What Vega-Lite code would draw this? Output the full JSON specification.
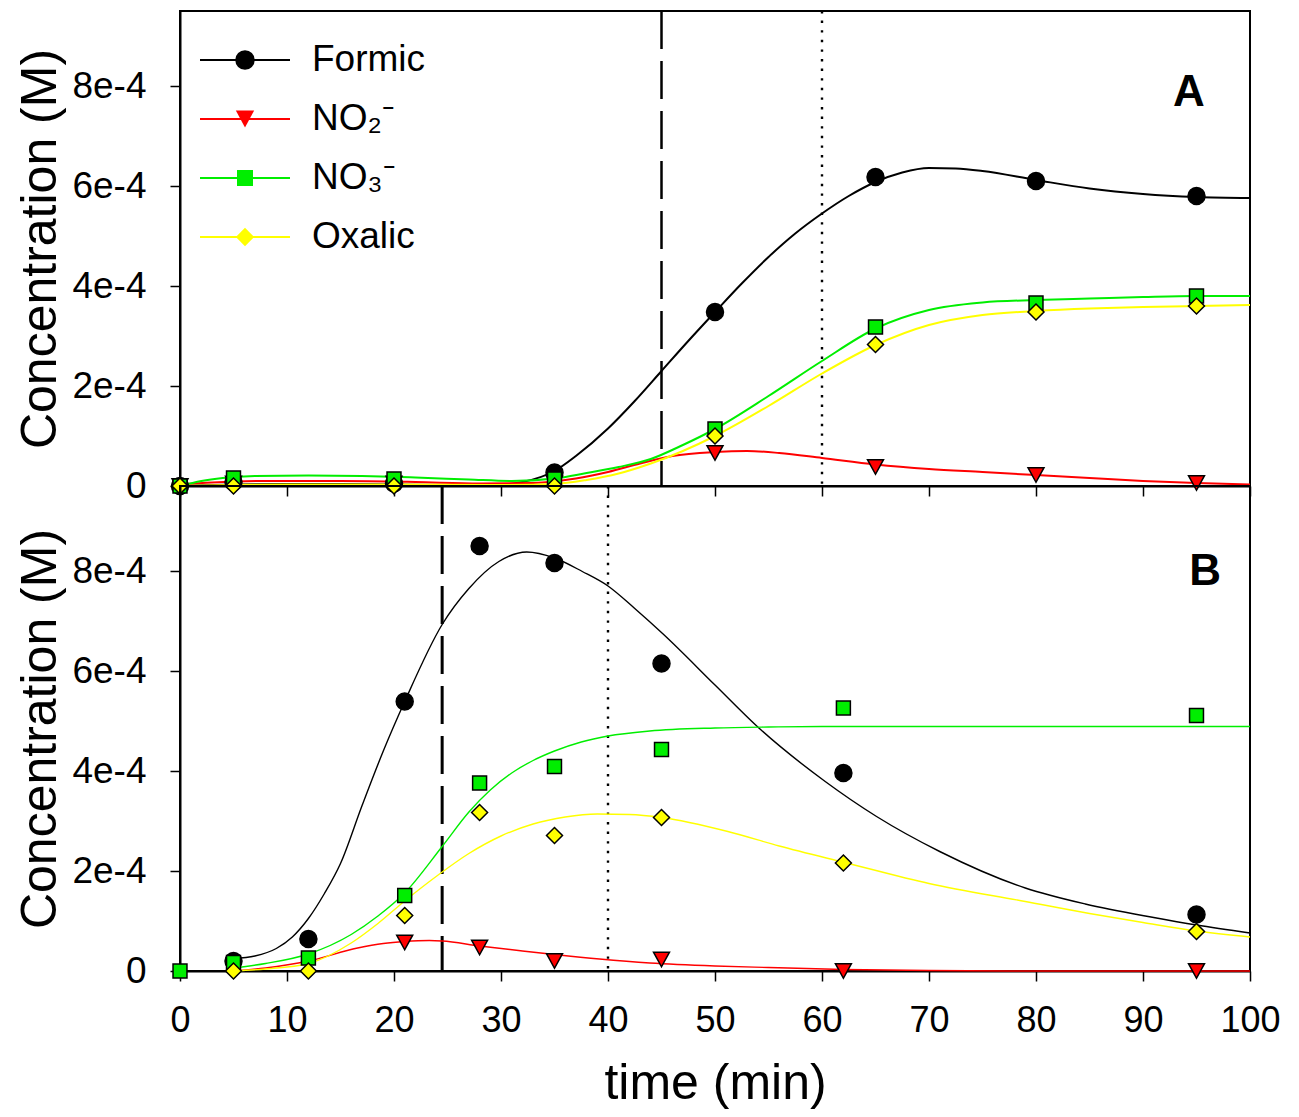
{
  "$schema": "https://vega.github.io/schema/vega-lite/v6.json",
  "padding": {"left": 14, "top": 8, "right": 5, "bottom": 5},
  "autosize": {"type": "pad"},
  "background": "white",
  "config": {
    "font": "Liberation Sans",
    "view": {"stroke": "black", "strokeWidth": 2},
    "axis": {
      "domainColor": "black", "domainWidth": 2, "tickColor": "black", "tickWidth": 1.5, "tickSize": 10,
      "labelColor": "black", "titleColor": "black", "labelFont": "Liberation Sans", "titleFont": "Liberation Sans",
      "titleFontWeight": "normal", "grid": false, "labelFlush": false, "labelOverlap": false
    }
  },
  "datasets": {
    "ptsA": [
      {"t": 0, "c": 0, "s": "Formic"}, {"t": 5, "c": 0.000008, "s": "Formic"}, {"t": 20, "c": 0.000005, "s": "Formic"}, {"t": 35, "c": 0.000027, "s": "Formic"}, {"t": 50, "c": 0.000348, "s": "Formic"}, {"t": 65, "c": 0.000618, "s": "Formic"}, {"t": 80, "c": 0.00061, "s": "Formic"}, {"t": 95, "c": 0.00058, "s": "Formic"},
      {"t": 0, "c": 0, "s": "NO₂⁻"}, {"t": 5, "c": 0.000005, "s": "NO₂⁻"}, {"t": 20, "c": 0.000005, "s": "NO₂⁻"}, {"t": 35, "c": 0.000005, "s": "NO₂⁻"}, {"t": 50, "c": 0.000066, "s": "NO₂⁻"}, {"t": 65, "c": 0.000038, "s": "NO₂⁻"}, {"t": 80, "c": 0.000022, "s": "NO₂⁻"}, {"t": 95, "c": 0.000006, "s": "NO₂⁻"},
      {"t": 0, "c": 0, "s": "NO₃⁻"}, {"t": 5, "c": 0.000016, "s": "NO₃⁻"}, {"t": 20, "c": 0.000014, "s": "NO₃⁻"}, {"t": 35, "c": 0.000014, "s": "NO₃⁻"}, {"t": 50, "c": 0.000114, "s": "NO₃⁻"}, {"t": 65, "c": 0.000318, "s": "NO₃⁻"}, {"t": 80, "c": 0.000366, "s": "NO₃⁻"}, {"t": 95, "c": 0.00038, "s": "NO₃⁻"},
      {"t": 0, "c": 0, "s": "Oxalic"}, {"t": 5, "c": 0, "s": "Oxalic"}, {"t": 20, "c": 0, "s": "Oxalic"}, {"t": 35, "c": 0, "s": "Oxalic"}, {"t": 50, "c": 0.0001, "s": "Oxalic"}, {"t": 65, "c": 0.000283, "s": "Oxalic"}, {"t": 80, "c": 0.000348, "s": "Oxalic"}, {"t": 95, "c": 0.00036, "s": "Oxalic"}
    ],
    "fitA": [
      {"t": 0, "c": 0, "s": "Formic"}, {"t": 5, "c": 0.000003, "s": "Formic"}, {"t": 10, "c": 0.000004, "s": "Formic"}, {"t": 15, "c": 0.000004, "s": "Formic"}, {"t": 20, "c": 0.000003, "s": "Formic"}, {"t": 25, "c": 0.000002, "s": "Formic"}, {"t": 30, "c": 0.000003, "s": "Formic"}, {"t": 32, "c": 0.000008, "s": "Formic"}, {"t": 35, "c": 0.00003, "s": "Formic"}, {"t": 37, "c": 0.00006, "s": "Formic"}, {"t": 40, "c": 0.000115, "s": "Formic"}, {"t": 42.5, "c": 0.00017, "s": "Formic"}, {"t": 45, "c": 0.00023, "s": "Formic"}, {"t": 47.5, "c": 0.00029, "s": "Formic"}, {"t": 50, "c": 0.000348, "s": "Formic"}, {"t": 52.5, "c": 0.000405, "s": "Formic"}, {"t": 55, "c": 0.000458, "s": "Formic"}, {"t": 57.5, "c": 0.000505, "s": "Formic"}, {"t": 60, "c": 0.000545, "s": "Formic"}, {"t": 62.5, "c": 0.00058, "s": "Formic"}, {"t": 65, "c": 0.000608, "s": "Formic"}, {"t": 67.5, "c": 0.000627, "s": "Formic"}, {"t": 70, "c": 0.000636, "s": "Formic"}, {"t": 72.5, "c": 0.000635, "s": "Formic"}, {"t": 75, "c": 0.00063, "s": "Formic"}, {"t": 80, "c": 0.000612, "s": "Formic"}, {"t": 85, "c": 0.000595, "s": "Formic"}, {"t": 90, "c": 0.000584, "s": "Formic"}, {"t": 95, "c": 0.000578, "s": "Formic"}, {"t": 100, "c": 0.000576, "s": "Formic"},
      {"t": 0, "c": 0.000003, "s": "NO₂⁻"}, {"t": 3, "c": 0.000007, "s": "NO₂⁻"}, {"t": 8, "c": 0.00001, "s": "NO₂⁻"}, {"t": 15, "c": 0.00001, "s": "NO₂⁻"}, {"t": 22, "c": 0.000008, "s": "NO₂⁻"}, {"t": 28, "c": 0.000005, "s": "NO₂⁻"}, {"t": 33, "c": 0.000006, "s": "NO₂⁻"}, {"t": 37, "c": 0.000015, "s": "NO₂⁻"}, {"t": 40, "c": 0.000028, "s": "NO₂⁻"}, {"t": 43, "c": 0.000045, "s": "NO₂⁻"}, {"t": 46, "c": 0.00006, "s": "NO₂⁻"}, {"t": 50, "c": 0.000068, "s": "NO₂⁻"}, {"t": 53, "c": 0.00007, "s": "NO₂⁻"}, {"t": 56, "c": 0.000066, "s": "NO₂⁻"}, {"t": 60, "c": 0.000056, "s": "NO₂⁻"}, {"t": 65, "c": 0.000043, "s": "NO₂⁻"}, {"t": 70, "c": 0.000034, "s": "NO₂⁻"}, {"t": 75, "c": 0.000028, "s": "NO₂⁻"}, {"t": 80, "c": 0.000022, "s": "NO₂⁻"}, {"t": 85, "c": 0.000016, "s": "NO₂⁻"}, {"t": 90, "c": 0.00001, "s": "NO₂⁻"}, {"t": 95, "c": 0.000006, "s": "NO₂⁻"}, {"t": 100, "c": 0.000003, "s": "NO₂⁻"},
      {"t": 0, "c": 0, "s": "NO₃⁻"}, {"t": 2, "c": 0.00001, "s": "NO₃⁻"}, {"t": 4, "c": 0.000016, "s": "NO₃⁻"}, {"t": 7, "c": 0.00002, "s": "NO₃⁻"}, {"t": 12, "c": 0.000021, "s": "NO₃⁻"}, {"t": 17, "c": 0.00002, "s": "NO₃⁻"}, {"t": 22, "c": 0.000017, "s": "NO₃⁻"}, {"t": 27, "c": 0.000013, "s": "NO₃⁻"}, {"t": 31, "c": 0.00001, "s": "NO₃⁻"}, {"t": 35, "c": 0.000015, "s": "NO₃⁻"}, {"t": 38, "c": 0.000026, "s": "NO₃⁻"}, {"t": 41, "c": 0.000038, "s": "NO₃⁻"}, {"t": 44, "c": 0.000054, "s": "NO₃⁻"}, {"t": 47, "c": 0.000082, "s": "NO₃⁻"}, {"t": 50, "c": 0.000114, "s": "NO₃⁻"}, {"t": 55, "c": 0.00018, "s": "NO₃⁻"}, {"t": 60, "c": 0.00025, "s": "NO₃⁻"}, {"t": 65, "c": 0.000315, "s": "NO₃⁻"}, {"t": 70, "c": 0.000352, "s": "NO₃⁻"}, {"t": 75, "c": 0.000367, "s": "NO₃⁻"}, {"t": 80, "c": 0.000372, "s": "NO₃⁻"}, {"t": 85, "c": 0.000375, "s": "NO₃⁻"}, {"t": 90, "c": 0.000378, "s": "NO₃⁻"}, {"t": 95, "c": 0.00038, "s": "NO₃⁻"}, {"t": 100, "c": 0.00038, "s": "NO₃⁻"},
      {"t": 0, "c": 0, "s": "Oxalic"}, {"t": 5, "c": 0.000002, "s": "Oxalic"}, {"t": 10, "c": 0.000003, "s": "Oxalic"}, {"t": 20, "c": 0.000003, "s": "Oxalic"}, {"t": 30, "c": 0.000002, "s": "Oxalic"}, {"t": 35, "c": 0.000004, "s": "Oxalic"}, {"t": 38, "c": 0.000012, "s": "Oxalic"}, {"t": 41, "c": 0.000025, "s": "Oxalic"}, {"t": 44, "c": 0.000045, "s": "Oxalic"}, {"t": 47, "c": 0.00007, "s": "Oxalic"}, {"t": 50, "c": 0.0001, "s": "Oxalic"}, {"t": 55, "c": 0.00016, "s": "Oxalic"}, {"t": 60, "c": 0.000225, "s": "Oxalic"}, {"t": 65, "c": 0.000282, "s": "Oxalic"}, {"t": 70, "c": 0.000322, "s": "Oxalic"}, {"t": 75, "c": 0.000342, "s": "Oxalic"}, {"t": 80, "c": 0.00035, "s": "Oxalic"}, {"t": 85, "c": 0.000355, "s": "Oxalic"}, {"t": 90, "c": 0.000358, "s": "Oxalic"}, {"t": 95, "c": 0.00036, "s": "Oxalic"}, {"t": 100, "c": 0.000362, "s": "Oxalic"}
    ],
    "ptsB": [
      {"t": 5, "c": 0.00002, "s": "Formic"}, {"t": 12, "c": 0.000064, "s": "Formic"}, {"t": 21, "c": 0.000539, "s": "Formic"}, {"t": 28, "c": 0.00085, "s": "Formic"}, {"t": 35, "c": 0.000816, "s": "Formic"}, {"t": 45, "c": 0.000615, "s": "Formic"}, {"t": 62, "c": 0.000396, "s": "Formic"}, {"t": 95, "c": 0.000113, "s": "Formic"},
      {"t": 21, "c": 0.000057, "s": "NO₂⁻"}, {"t": 28, "c": 0.000047, "s": "NO₂⁻"}, {"t": 35, "c": 0.00002, "s": "NO₂⁻"}, {"t": 45, "c": 0.000023, "s": "NO₂⁻"}, {"t": 62, "c": 0, "s": "NO₂⁻"}, {"t": 95, "c": 0, "s": "NO₂⁻"},
      {"t": 0, "c": 0, "s": "NO₃⁻"}, {"t": 5, "c": 0.000017, "s": "NO₃⁻"}, {"t": 12, "c": 0.000026, "s": "NO₃⁻"}, {"t": 21, "c": 0.000151, "s": "NO₃⁻"}, {"t": 28, "c": 0.000376, "s": "NO₃⁻"}, {"t": 35, "c": 0.000409, "s": "NO₃⁻"}, {"t": 45, "c": 0.000443, "s": "NO₃⁻"}, {"t": 62, "c": 0.000526, "s": "NO₃⁻"}, {"t": 95, "c": 0.000511, "s": "NO₃⁻"},
      {"t": 5, "c": 0, "s": "Oxalic"}, {"t": 12, "c": 0, "s": "Oxalic"}, {"t": 21, "c": 0.000111, "s": "Oxalic"}, {"t": 28, "c": 0.000317, "s": "Oxalic"}, {"t": 35, "c": 0.000271, "s": "Oxalic"}, {"t": 45, "c": 0.000307, "s": "Oxalic"}, {"t": 62, "c": 0.000216, "s": "Oxalic"}, {"t": 95, "c": 0.000079, "s": "Oxalic"}
    ],
    "fitB": [
      {"t": 5, "c": 0.000025, "s": "Formic"}, {"t": 7, "c": 0.00003, "s": "Formic"}, {"t": 9, "c": 0.000045, "s": "Formic"}, {"t": 10.5, "c": 0.000068, "s": "Formic"}, {"t": 12, "c": 0.000105, "s": "Formic"}, {"t": 13.5, "c": 0.000155, "s": "Formic"}, {"t": 15, "c": 0.000215, "s": "Formic"}, {"t": 17, "c": 0.00033, "s": "Formic"}, {"t": 19, "c": 0.00044, "s": "Formic"}, {"t": 21, "c": 0.000539, "s": "Formic"}, {"t": 24.5, "c": 0.000693, "s": "Formic"}, {"t": 27, "c": 0.000765, "s": "Formic"}, {"t": 29.8, "c": 0.000819, "s": "Formic"}, {"t": 32.4, "c": 0.000838, "s": "Formic"}, {"t": 35, "c": 0.000826, "s": "Formic"}, {"t": 37.6, "c": 0.000799, "s": "Formic"}, {"t": 40, "c": 0.00077, "s": "Formic"}, {"t": 42.5, "c": 0.000725, "s": "Formic"}, {"t": 45.2, "c": 0.000673, "s": "Formic"}, {"t": 50, "c": 0.000572, "s": "Formic"}, {"t": 54, "c": 0.000488, "s": "Formic"}, {"t": 60.3, "c": 0.000379, "s": "Formic"}, {"t": 65.1, "c": 0.000309, "s": "Formic"}, {"t": 71, "c": 0.000239, "s": "Formic"}, {"t": 79, "c": 0.000166, "s": "Formic"}, {"t": 84.6, "c": 0.000134, "s": "Formic"}, {"t": 91, "c": 0.000107, "s": "Formic"}, {"t": 95, "c": 0.000092, "s": "Formic"}, {"t": 100, "c": 0.000076, "s": "Formic"},
      {"t": 5, "c": 0, "s": "NO₂⁻"}, {"t": 8, "c": 0.000006, "s": "NO₂⁻"}, {"t": 12, "c": 0.00002, "s": "NO₂⁻"}, {"t": 16.6, "c": 0.000046, "s": "NO₂⁻"}, {"t": 19, "c": 0.000055, "s": "NO₂⁻"}, {"t": 21, "c": 0.000059, "s": "NO₂⁻"}, {"t": 23.3, "c": 0.000061, "s": "NO₂⁻"}, {"t": 24.5, "c": 0.00006, "s": "NO₂⁻"}, {"t": 28, "c": 0.00005, "s": "NO₂⁻"}, {"t": 32, "c": 0.00004, "s": "NO₂⁻"}, {"t": 35, "c": 0.000033, "s": "NO₂⁻"}, {"t": 39.2, "c": 0.000024, "s": "NO₂⁻"}, {"t": 43.9, "c": 0.000016, "s": "NO₂⁻"}, {"t": 50, "c": 0.00001, "s": "NO₂⁻"}, {"t": 55, "c": 0.000007, "s": "NO₂⁻"}, {"t": 62, "c": 0.000003, "s": "NO₂⁻"}, {"t": 70, "c": 0.000001, "s": "NO₂⁻"}, {"t": 80, "c": 0, "s": "NO₂⁻"}, {"t": 100, "c": 0, "s": "NO₂⁻"},
      {"t": 5, "c": 0.000006, "s": "NO₃⁻"}, {"t": 8, "c": 0.000015, "s": "NO₃⁻"}, {"t": 12, "c": 0.000034, "s": "NO₃⁻"}, {"t": 16, "c": 0.000073, "s": "NO₃⁻"}, {"t": 18.5, "c": 0.00011, "s": "NO₃⁻"}, {"t": 21, "c": 0.000156, "s": "NO₃⁻"}, {"t": 24.5, "c": 0.000249, "s": "NO₃⁻"}, {"t": 27, "c": 0.000318, "s": "NO₃⁻"}, {"t": 29, "c": 0.000362, "s": "NO₃⁻"}, {"t": 31, "c": 0.000396, "s": "NO₃⁻"}, {"t": 33, "c": 0.000421, "s": "NO₃⁻"}, {"t": 35, "c": 0.00044, "s": "NO₃⁻"}, {"t": 37.5, "c": 0.000458, "s": "NO₃⁻"}, {"t": 40, "c": 0.00047, "s": "NO₃⁻"}, {"t": 43.9, "c": 0.00048, "s": "NO₃⁻"}, {"t": 50, "c": 0.000486, "s": "NO₃⁻"}, {"t": 55, "c": 0.000488, "s": "NO₃⁻"}, {"t": 60, "c": 0.000489, "s": "NO₃⁻"}, {"t": 70, "c": 0.000489, "s": "NO₃⁻"}, {"t": 100, "c": 0.000489, "s": "NO₃⁻"},
      {"t": 5, "c": 0, "s": "Oxalic"}, {"t": 8, "c": 0.000004, "s": "Oxalic"}, {"t": 12, "c": 0.000015, "s": "Oxalic"}, {"t": 16, "c": 0.000056, "s": "Oxalic"}, {"t": 18.5, "c": 0.000095, "s": "Oxalic"}, {"t": 21, "c": 0.00014, "s": "Oxalic"}, {"t": 24, "c": 0.00019, "s": "Oxalic"}, {"t": 27, "c": 0.000235, "s": "Oxalic"}, {"t": 30, "c": 0.00027, "s": "Oxalic"}, {"t": 33, "c": 0.000294, "s": "Oxalic"}, {"t": 36, "c": 0.000308, "s": "Oxalic"}, {"t": 39, "c": 0.000314, "s": "Oxalic"}, {"t": 42, "c": 0.000313, "s": "Oxalic"}, {"t": 45, "c": 0.000307, "s": "Oxalic"}, {"t": 51.2, "c": 0.000279, "s": "Oxalic"}, {"t": 56, "c": 0.00025, "s": "Oxalic"}, {"t": 62.3, "c": 0.000216, "s": "Oxalic"}, {"t": 70, "c": 0.000175, "s": "Oxalic"}, {"t": 79, "c": 0.000139, "s": "Oxalic"}, {"t": 85, "c": 0.000115, "s": "Oxalic"}, {"t": 90, "c": 0.000097, "s": "Oxalic"}, {"t": 95, "c": 0.00008, "s": "Oxalic"}, {"t": 100, "c": 0.000068, "s": "Oxalic"}
    ],
    "dashA": [{"t": 45}],
    "dotA": [{"t": 60}],
    "dashB": [{"t": 24.5}],
    "dotB": [{"t": 40}],
    "lblA": [{"t": 94.3, "c": 0.000786, "label": "A"}],
    "lblB": [{"t": 95.8, "c": 0.000799, "label": "B"}]
  },
  "vconcat": [
    {
      "width": 1070,
      "height": 475,
      "resolve": {"scale": {"color": "independent", "fill": "independent", "shape": "independent"}},
      "layer": [
        {
          "data": {"name": "dashA"},
          "mark": {"type": "rule", "color": "black", "strokeWidth": 2.5, "strokeDash": [38, 12]},
          "encoding": {"x": {"field": "t", "type": "quantitative", "scale": {"domain": [0, 100], "nice": false}}}
        },
        {
          "data": {"name": "dotA"},
          "mark": {"type": "rule", "color": "black", "strokeWidth": 2.4, "strokeDash": [2.4, 7.2]},
          "encoding": {"x": {"field": "t", "type": "quantitative"}}
        },
        {
          "data": {"name": "fitA"},
          "mark": {"type": "line", "interpolate": "monotone", "strokeWidth": 2},
          "encoding": {
            "x": {"field": "t", "type": "quantitative", "scale": {"domain": [0, 100], "nice": false},
              "axis": {"title": null, "labels": false, "values": [0, 10, 20, 30, 40, 50, 60, 70, 80, 90, 100]}},
            "y": {"field": "c", "type": "quantitative", "scale": {"domain": [0, 0.00095], "nice": false},
              "axis": {"title": "Concentration (M)", "values": [0, 0.0002, 0.0004, 0.0006, 0.0008],
                "labelExpr": "datum.value == 0 ? '0' : format(datum.value, '.0e')",
                "labelFontSize": 37, "labelPadding": 24, "titleFontSize": 50, "titlePadding": 6}},
            "color": {"field": "s", "type": "nominal",
              "scale": {"domain": ["Formic", "NO₂⁻", "NO₃⁻", "Oxalic"], "range": ["#000000", "#ff0000", "#00ee00", "#ffff00"]},
              "legend": {"orient": "none", "legendX": 46.5, "legendY": 30.5, "title": null, "padding": 0,
                "symbolType": "M-10,0L10,0", "symbolSize": 81, "symbolStrokeWidth": 2, "symbolOpacity": 1,
                "labelFontSize": 37, "labelOffset": 48.5, "rowPadding": 21, "labelColor": "black", "labelFont": "Liberation Sans"}}
          }
        },
        {
          "data": {"name": "ptsA"},
          "mark": {"type": "point", "filled": true, "stroke": "black", "strokeWidth": 1.5, "size": 289, "opacity": 1},
          "encoding": {
            "x": {"field": "t", "type": "quantitative"},
            "y": {"field": "c", "type": "quantitative"},
            "fill": {"field": "s", "type": "nominal",
              "scale": {"range": ["#000000", "#ff0000", "#00ee00", "#ffff00"]},
              "legend": {"orient": "none", "legendX": 46.5, "legendY": 30.5, "title": null, "padding": 0,
                "symbolSize": 380, "symbolStrokeWidth": 1.5, "symbolStrokeColor": "black", "symbolOpacity": 1,
                "labelFontSize": 37, "labelOffset": 48.5, "rowPadding": 21, "labelExpr": "''"}},
            "shape": {"field": "s", "type": "nominal",
              "scale": {"range": ["circle", "M-0.94,-0.86L0.94,-0.86L0,0.86Z", "M-0.82,-0.82L0.82,-0.82L0.82,0.82L-0.82,0.82Z", "M-0.94,0L0,-0.94L0.94,0L0,0.94Z"]},
              "legend": {"orient": "none", "legendX": 46.5, "legendY": 30.5, "title": null, "padding": 0,
                "symbolSize": 380, "symbolStrokeWidth": 1.5, "symbolStrokeColor": "black", "symbolOpacity": 1,
                "labelFontSize": 37, "labelOffset": 48.5, "rowPadding": 21, "labelExpr": "''"}}
          }
        },
        {
          "data": {"name": "lblA"},
          "mark": {"type": "text", "fontSize": 44, "fontWeight": "bold", "font": "Liberation Sans", "align": "center", "baseline": "middle", "color": "black"},
          "encoding": {
            "x": {"field": "t", "type": "quantitative"},
            "y": {"field": "c", "type": "quantitative"},
            "text": {"field": "label"}
          }
        }
      ]
    },
    {
      "width": 1070,
      "height": 485,
      "resolve": {"scale": {"color": "independent", "fill": "independent", "shape": "independent"}},
      "layer": [
        {
          "data": {"name": "dashB"},
          "mark": {"type": "rule", "color": "black", "strokeWidth": 3, "strokeDash": [38, 12]},
          "encoding": {"x": {"field": "t", "type": "quantitative", "scale": {"domain": [0, 100], "nice": false}}}
        },
        {
          "data": {"name": "dotB"},
          "mark": {"type": "rule", "color": "black", "strokeWidth": 2.4, "strokeDash": [2.4, 7.2]},
          "encoding": {"x": {"field": "t", "type": "quantitative"}}
        },
        {
          "data": {"name": "fitB"},
          "mark": {"type": "line", "interpolate": "monotone", "strokeWidth": 1.4},
          "encoding": {
            "x": {"field": "t", "type": "quantitative", "scale": {"domain": [0, 100], "nice": false},
              "axis": {"title": "time (min)", "values": [0, 10, 20, 30, 40, 50, 60, 70, 80, 90, 100],
                "labelFontSize": 36, "labelPadding": 22, "titleFontSize": 50, "titlePadding": 20}},
            "y": {"field": "c", "type": "quantitative", "scale": {"domain": [0, 0.00097], "nice": false},
              "axis": {"title": "Concentration (M)", "values": [0, 0.0002, 0.0004, 0.0006, 0.0008],
                "labelExpr": "datum.value == 0 ? '0' : format(datum.value, '.0e')",
                "labelFontSize": 37, "labelPadding": 24, "titleFontSize": 50, "titlePadding": 6}},
            "color": {"field": "s", "type": "nominal",
              "scale": {"domain": ["Formic", "NO₂⁻", "NO₃⁻", "Oxalic"], "range": ["#000000", "#ff0000", "#00ee00", "#ffff00"]},
              "legend": null}
          }
        },
        {
          "data": {"name": "ptsB"},
          "mark": {"type": "point", "filled": true, "stroke": "black", "strokeWidth": 1.5, "size": 289, "opacity": 1},
          "encoding": {
            "x": {"field": "t", "type": "quantitative"},
            "y": {"field": "c", "type": "quantitative"},
            "fill": {"field": "s", "type": "nominal",
              "scale": {"domain": ["Formic", "NO₂⁻", "NO₃⁻", "Oxalic"], "range": ["#000000", "#ff0000", "#00ee00", "#ffff00"]}, "legend": null},
            "shape": {"field": "s", "type": "nominal",
              "scale": {"domain": ["Formic", "NO₂⁻", "NO₃⁻", "Oxalic"], "range": ["circle", "M-0.94,-0.86L0.94,-0.86L0,0.86Z", "M-0.82,-0.82L0.82,-0.82L0.82,0.82L-0.82,0.82Z", "M-0.94,0L0,-0.94L0.94,0L0,0.94Z"]}, "legend": null}
          }
        },
        {
          "data": {"name": "lblB"},
          "mark": {"type": "text", "fontSize": 44, "fontWeight": "bold", "font": "Liberation Sans", "align": "center", "baseline": "middle", "color": "black"},
          "encoding": {
            "x": {"field": "t", "type": "quantitative"},
            "y": {"field": "c", "type": "quantitative"},
            "text": {"field": "label"}
          }
        }
      ]
    }
  ],
  "spacing": 0,
  "bounds": "flush",
  "resolve": {"scale": {"color": "independent", "fill": "independent", "shape": "independent", "x": "independent", "y": "independent"}, "legend": {"color": "independent", "fill": "independent", "shape": "independent"}}
}
